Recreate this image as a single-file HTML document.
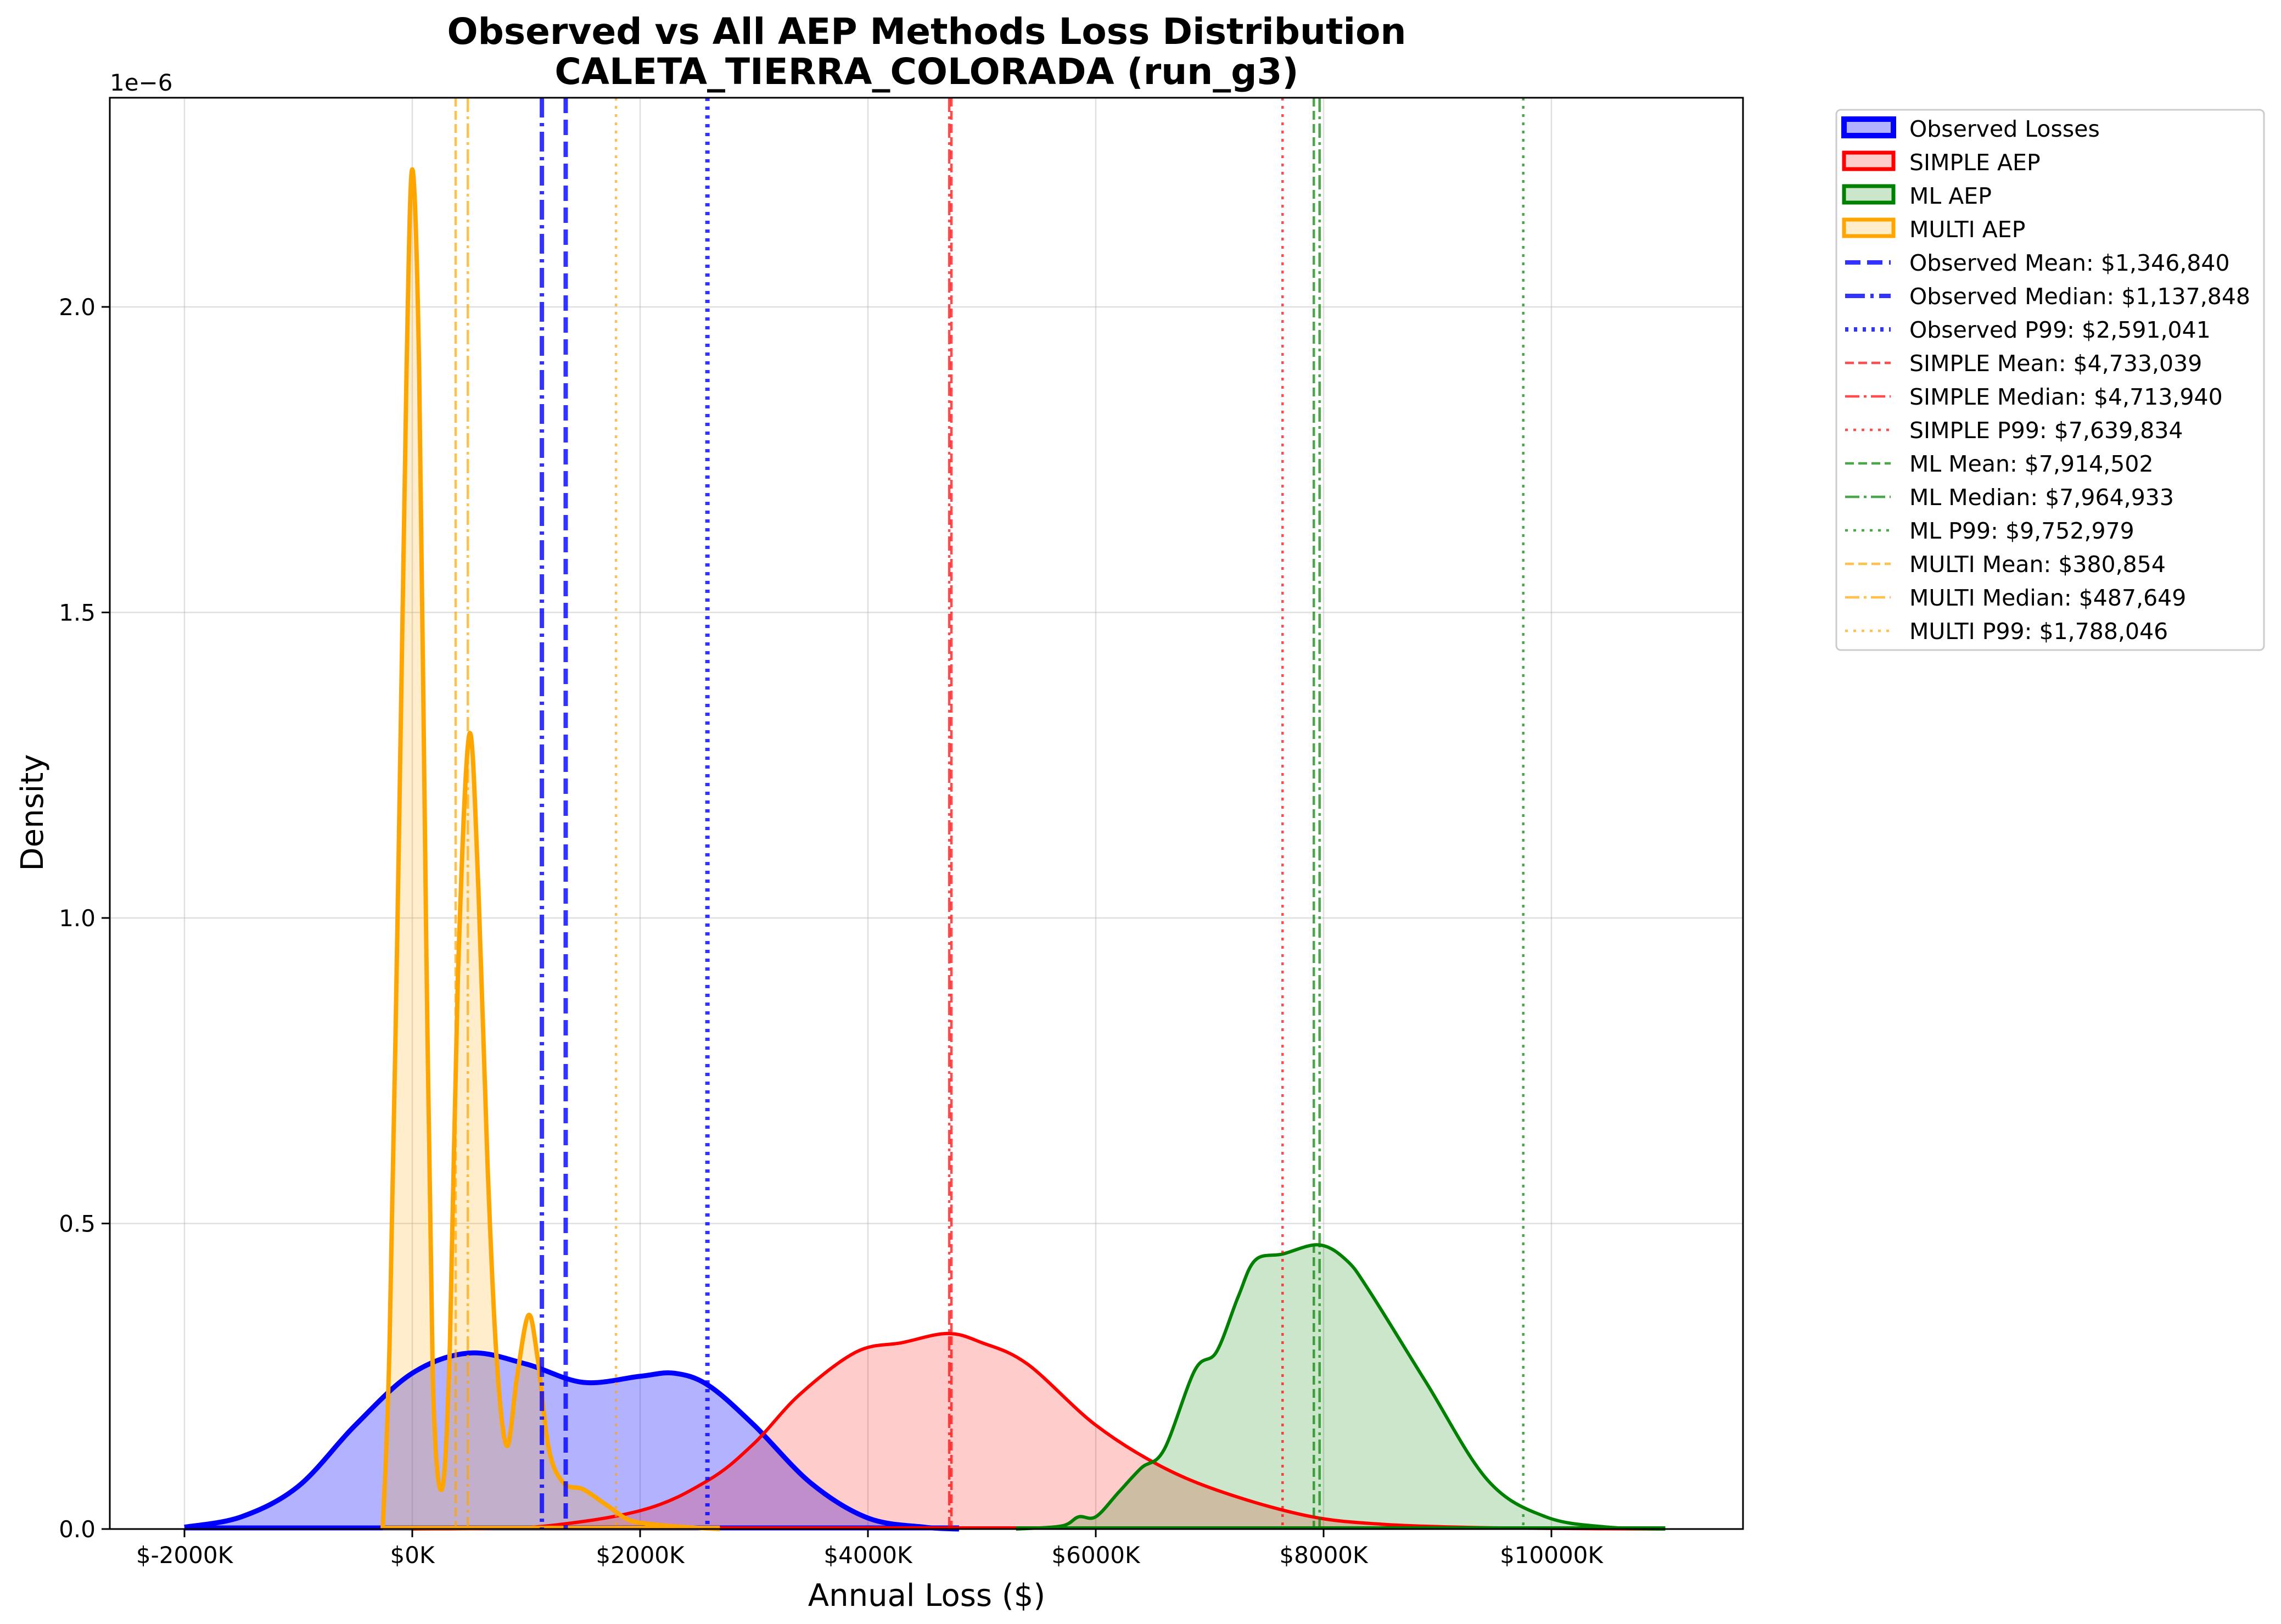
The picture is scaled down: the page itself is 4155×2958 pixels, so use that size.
<!DOCTYPE html>
<html><head><meta charset="utf-8">
<style>
html,body{margin:0;padding:0;background:#fff;}
svg{display:block;font-family:"DejaVu Sans","Liberation Sans",sans-serif;}
</style></head>
<body>
<svg id="chart" width="4155" height="2958" viewBox="0 0 4155 2958" xmlns="http://www.w3.org/2000/svg">
<text x="1688" y="80" font-size="66" font-weight="bold" text-anchor="middle">Observed vs All AEP Methods Loss Distribution</text>
<text x="1688" y="153" font-size="66" font-weight="bold" text-anchor="middle">CALETA_TIERRA_COLORADA (run_g3)</text>
<text x="200" y="165" font-size="42">1e−6</text>
<g id="grid"></g>
<g id="fills"></g>
<g id="lines"></g>
<g id="vlines"></g>
<g id="axes"></g>
<text x="1688" y="2925" font-size="56" text-anchor="middle">Annual Loss ($)</text>
<text x="0" y="0" font-size="56" text-anchor="middle" transform="translate(78,1480) rotate(-90)">Density</text>
<g id="legend"></g>
</svg>
<script>
// data
const xTicks = [-2, 0, 2, 4, 6, 8, 10];
const xTickLabels = ["$-2000K","$0K","$2000K","$4000K","$6000K","$8000K","$10000K"];
const yTicks = [0, 0.5, 1.0, 1.5, 2.0];
const yTickLabels = ["0.0","0.5","1.0","1.5","2.0"];
const obsX = [-2.0,-1.5,-1.0,-0.5,0,0.5,1.0,1.5,2.0,2.3,2.6,3.0,3.5,4.0,4.5,4.8];
const obsY = [0.003,0.02,0.07,0.17,0.255,0.288,0.27,0.24,0.25,0.255,0.235,0.17,0.075,0.018,0.003,0];
const simX = [0,1.0,2.0,2.6,3.0,3.4,3.9,4.3,4.7,5.0,5.4,6.0,6.6,7.2,7.9,8.5,9.2,10,11];
const simY = [0,0.002,0.03,0.08,0.14,0.22,0.29,0.305,0.32,0.305,0.27,0.17,0.1,0.055,0.02,0.008,0.003,0.001,0];
const mlX = [5.3,5.7,5.85,6.0,6.2,6.4,6.6,6.87,7.06,7.25,7.4,7.64,7.96,8.2,8.4,8.9,9.44,9.95,10.5,11];
const mlY = [0,0.005,0.02,0.02,0.06,0.1,0.13,0.26,0.29,0.38,0.44,0.45,0.465,0.44,0.39,0.24,0.08,0.02,0.003,0];
const mulX = [-0.26,-0.2,-0.12,-0.05,0,0.06,0.12,0.18,0.26,0.33,0.4,0.5,0.58,0.66,0.74,0.83,0.92,1.02,1.1,1.2,1.33,1.5,1.7,1.9,2.1,2.4,2.7];
const mulY = [0,0.3,1.1,1.9,2.225,1.9,1.0,0.25,0.065,0.3,0.9,1.3,1.05,0.6,0.28,0.136,0.25,0.35,0.28,0.13,0.075,0.065,0.04,0.015,0.008,0.003,0];
const statVals = [1.34684,1.137848,2.591041,4.733039,4.71394,7.639834,7.914502,7.964933,9.752979,0.380854,0.487649,1.788046];
const statLabels = ["Observed Mean: $1,346,840","Observed Median: $1,137,848","Observed P99: $2,591,041","SIMPLE Mean: $4,733,039","SIMPLE Median: $4,713,940","SIMPLE P99: $7,639,834","ML Mean: $7,914,502","ML Median: $7,964,933","ML P99: $9,752,979","MULTI Mean: $380,854","MULTI Median: $487,649","MULTI P99: $1,788,046"];
const seriesLabels = ["Observed Losses","SIMPLE AEP","ML AEP","MULTI AEP"];

const NS="http://www.w3.org/2000/svg";
const L=200,R=3175,T=178,B=2785;
const x0=751, pxPerM=207.5, pxPerD=1113;
const sx=v=>x0+v*pxPerM, sy=v=>B-v*pxPerD;
function mk(tag,attrs,parent){const e=document.createElementNS(NS,tag);for(const k in attrs)e.setAttribute(k,attrs[k]);parent.appendChild(e);return e;}
const G=id=>document.getElementById(id);

xTicks.forEach((t,i)=>{
  const g=mk('line',{x1:sx(t),x2:sx(t),y1:T,y2:B,stroke:'#b0b0b0','stroke-width':2.5,'stroke-opacity':0.4},G('grid'));
  
  
  const tk=mk('line',{x1:sx(t),x2:sx(t),y1:B,y2:B+15,stroke:'#000','stroke-width':3},G('axes'));
  
  
  const tx=mk('text',{x:sx(t),y:B+62,'font-size':42,'text-anchor':'middle'},G('axes'));
  tx.textContent=xTickLabels[i];
  
  
});
yTicks.forEach((t,i)=>{
  const g=mk('line',{x1:L,x2:R,y1:sy(t),y2:sy(t),stroke:'#b0b0b0','stroke-width':2.5,'stroke-opacity':0.4},G('grid'));
  
  
  const tk=mk('line',{x1:L-15,x2:L,y1:sy(t),y2:sy(t),stroke:'#000','stroke-width':3},G('axes'));
  
  
  const tx=mk('text',{x:L-26,y:sy(t)+15,'font-size':42,'text-anchor':'end'},G('axes'));
  tx.textContent=yTickLabels[i];
  
  
});
const fr=mk('rect',{x:L,y:T,width:R-L,height:B-T,fill:'none',stroke:'#000','stroke-width':3},G('axes'));



function smooth(xs,ys){
  const p=xs.map((x,i)=>[sx(x),sy(ys[i])]);
  let d=`M${p[0][0]},${p[0][1]}`;
  for(let i=0;i<p.length-1;i++){
    const a=p[i-1]||p[i],b=p[i],c=p[i+1],e=p[i+2]||c;
    let c1y=b[1]+(c[1]-a[1])/6, c2y=c[1]-(e[1]-b[1])/6;
    c1y=Math.min(c1y,B); c2y=Math.min(c2y,B);
    d+=` C${b[0]+(c[0]-a[0])/6},${c1y} ${c[0]-(e[0]-b[0])/6},${c2y} ${c[0]},${c[1]}`;
  }
  return d;
}
const series=[
 {x:obsX,y:obsY,c:'#0000ff',w:9,n:'observed'},
 {x:simX,y:simY,c:'#ff0000',w:6,n:'simple'},
 {x:mlX,y:mlY,c:'#008000',w:6,n:'ml'},
 {x:mulX,y:mulY,c:'#ffa500',w:8,n:'multi'}];
series.forEach(s=>{
  const d=smooth(s.x,s.y);
  const f=mk('path',{d:d+` L${sx(s.x[s.x.length-1])},${B} L${sx(s.x[0])},${B} Z`,fill:s.c,'fill-opacity':s.n==='observed'?0.3:0.2,stroke:'none'},G('fills'));
  
  
  const l=mk('path',{d:d,fill:'none',stroke:s.c,'stroke-width':s.w,'stroke-linejoin':'round'},G('lines'));
  
  
  const bl=mk('line',{x1:sx(s.x[0]),x2:sx(s.x[s.x.length-1]),y1:B-2,y2:B-2,stroke:s.c,'stroke-width':s.w},G('lines'));
  
  
});
const statCol=['#0000ff','#0000ff','#0000ff','#ff0000','#ff0000','#ff0000','#008000','#008000','#008000','#ffa500','#ffa500','#ffa500'];
const dashes=['28,12','36,10,6,10','6,10','16,8','26,8,5,8','5,10'];
statVals.forEach((v,i)=>{
  const obs=i<3, k=i%3;
  const da=obs?dashes[k]:dashes[k+3];
  const op=obs?0.8:0.7;
  const w=obs?8:4.5;
  const l=mk('line',{x1:sx(v),x2:sx(v),y1:T,y2:B,stroke:statCol[i],'stroke-width':w,'stroke-dasharray':da,'stroke-opacity':op},G('vlines'));
  
  
});
// legend
const lg=G('legend');
const box=mk('rect',{x:3345,y:200,width:779,height:984,rx:8,fill:'#fff','fill-opacity':0.8,stroke:'#ccc','stroke-width':3},lg);


const rowY=i=>234+i*61;
seriesLabels.forEach((t,i)=>{
  const s=series[i];
  const r=mk('rect',{x:3359,y:rowY(i)-17,width:90,height:30,fill:s.c,'fill-opacity':s.n==='observed'?0.3:0.2,stroke:s.c,'stroke-width':s.n==='observed'?10:7},lg);
  
  
  const tx=mk('text',{x:3478,y:rowY(i)+15,'font-size':41},lg);
  tx.textContent=t;
  
  
});
statLabels.forEach((t,i)=>{
  const obs=i<3,k=i%3;
  const y=rowY(i+4);
  const l=mk('line',{x1:3361,x2:3444,y1:y,y2:y,stroke:statCol[i],'stroke-width':obs?8:4.5,'stroke-dasharray':obs?dashes[k]:dashes[k+3],'stroke-opacity':obs?0.8:0.7},lg);
  
  
  const tx=mk('text',{x:3478,y:y+15,'font-size':41},lg);
  tx.textContent=t;
  
  
});
</script>
</body></html>
